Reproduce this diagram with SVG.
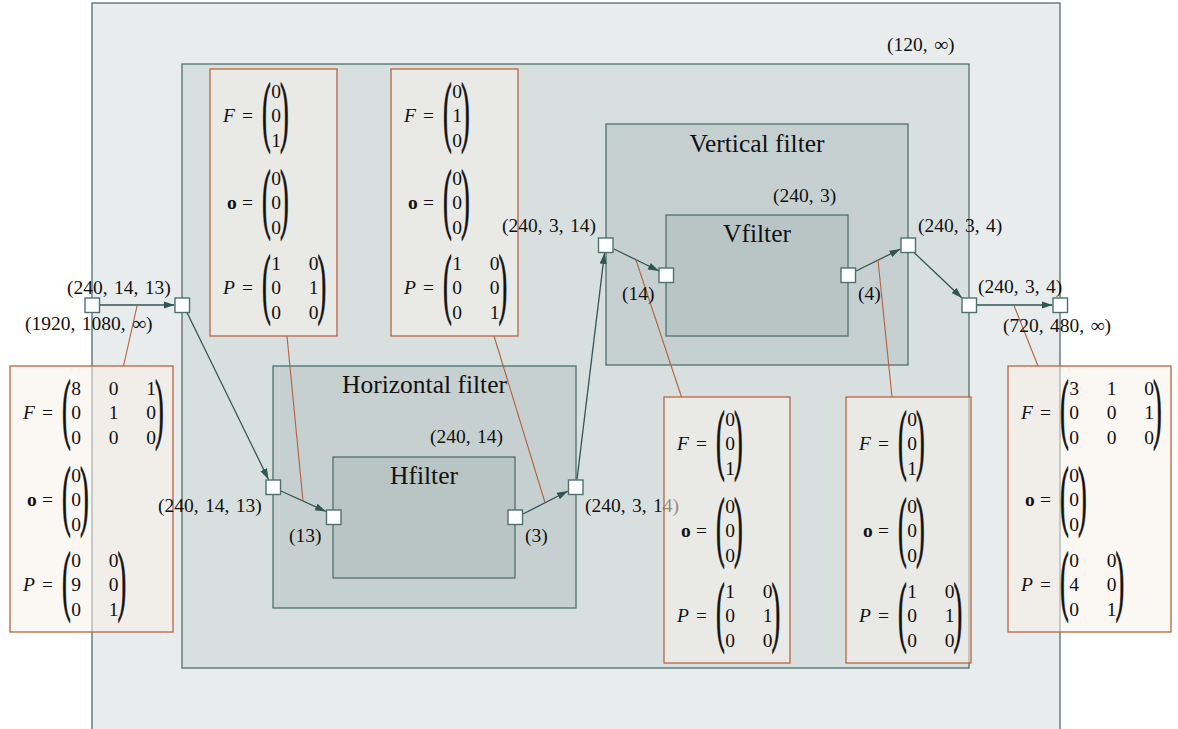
<svg xmlns="http://www.w3.org/2000/svg" width="1178" height="729" viewBox="0 0 1178 729">
<style>
.t{font-family:"Liberation Serif","Times New Roman",serif;font-size:19.5px;fill:#111;word-spacing:1.5px}
.ti{font-size:25.5px;text-anchor:middle;word-spacing:0}
.it{font-style:italic}
.bd{font-weight:bold}
.c{text-anchor:middle}
.box{stroke:#4e716e;stroke-width:1.3}
.port{fill:#fff;stroke:#4e716e;stroke-width:1.4}
.edge{fill:none;stroke:#2f5654;stroke-width:1.3;marker-end:url(#ah)}
.ann{fill:none;stroke:#b5603a;stroke-width:1.1}
.mb{fill:#f7f0ea;fill-opacity:0.55;stroke:#b9653f;stroke-width:1.3}
.p{stroke:#111;stroke-width:0.25}
</style>
<defs>
<marker id="ah" markerWidth="12" markerHeight="8" refX="11" refY="4" orient="auto" markerUnits="userSpaceOnUse"><path d="M0,0.4 L11,4 L0,7.6 z" fill="#2f5654"/></marker>
</defs>
<rect width="1178" height="729" fill="#fff"/>
<g id="outer"><rect class="box" x="92" y="3" width="968" height="740" fill="#e8ecec"/></g>
<g id="inner"><rect class="box" x="182" y="64" width="787" height="604" fill="#d8dfdf"/></g>
<g id="hgroup"><rect class="box" x="273" y="366" width="303" height="242" fill="#c6d0d0"/></g>
<g id="hfilter"><rect class="box" x="333" y="457" width="182" height="121" fill="#b9c5c4"/></g>
<g id="vgroup"><rect class="box" x="606" y="124" width="302" height="241" fill="#c6d0d0"/></g>
<g id="vfilter"><rect class="box" x="666" y="215" width="182" height="121" fill="#b9c5c4"/></g>

<g id="connectors">
<path class="edge" d="M99.5,305 L174.5,305"/>
<path class="edge" d="M187,312.5 L268.5,479.5"/>
<path class="edge" d="M281,491 L326,511.5"/>
<path class="edge" d="M523,514 L568,491"/>
<path class="edge" d="M577,479.5 L604.5,253"/>
<path class="edge" d="M614,249 L659,271"/>
<path class="edge" d="M856,271 L900.5,249"/>
<path class="edge" d="M914,252.5 L962,298"/>
<path class="edge" d="M976.5,305 L1052.5,305"/>
<path class="ann" d="M137,306 L123.5,366"/>
<path class="ann" d="M287,336 L303,501"/>
<path class="ann" d="M494,336 L545,502.5"/>
<path class="ann" d="M636,260 L681.5,397"/>
<path class="ann" d="M878,260 L892,397"/>
<path class="ann" d="M1014,305.5 L1038,366"/>
</g>

<g id="m-in" class="t" transform="translate(10,366)">
<rect class="mb" x="0" y="0" width="163" height="266"/>
<text class="it" x="13" y="53">F</text><text x="32" y="53">=</text>
<text class="p" transform="translate(52,67.6) scale(1.35,4)">(</text><text class="p" transform="translate(145,67.6) scale(1.35,4)">)</text>
<text class="c" x="66" y="28.5">8</text><text class="c" x="103.5" y="28.5">0</text><text class="c" x="141" y="28.5">1</text>
<text class="c" x="66" y="53">0</text><text class="c" x="103.5" y="53">1</text><text class="c" x="141" y="53">0</text>
<text class="c" x="66" y="77.5">0</text><text class="c" x="103.5" y="77.5">0</text><text class="c" x="141" y="77.5">0</text>
<text class="bd" x="17" y="140">o</text><text x="32" y="140">=</text>
<text class="p" transform="translate(52,154.6) scale(1.35,4)">(</text><text class="p" transform="translate(70,154.6) scale(1.35,4)">)</text>
<text class="c" x="66" y="115.5">0</text><text class="c" x="66" y="140">0</text><text class="c" x="66" y="164.5">0</text>
<text class="it" x="13" y="225">P</text><text x="32" y="225">=</text>
<text class="p" transform="translate(52,239.6) scale(1.35,4)">(</text><text class="p" transform="translate(107.5,239.6) scale(1.35,4)">)</text>
<text class="c" x="66" y="200.5">0</text><text class="c" x="103.5" y="200.5">0</text>
<text class="c" x="66" y="225">9</text><text class="c" x="103.5" y="225">0</text>
<text class="c" x="66" y="249.5">0</text><text class="c" x="103.5" y="249.5">1</text>
</g>

<g id="m-h1" class="t" transform="translate(210,69)">
<rect class="mb" x="0" y="0" width="127" height="267"/>
<text class="it" x="13" y="53">F</text><text x="32" y="53">=</text>
<text class="p" transform="translate(52,67.6) scale(1.35,4)">(</text><text class="p" transform="translate(70,67.6) scale(1.35,4)">)</text>
<text class="c" x="66" y="28.5">0</text><text class="c" x="66" y="53">0</text><text class="c" x="66" y="77.5">1</text>
<text class="bd" x="17" y="140">o</text><text x="32" y="140">=</text>
<text class="p" transform="translate(52,154.6) scale(1.35,4)">(</text><text class="p" transform="translate(70,154.6) scale(1.35,4)">)</text>
<text class="c" x="66" y="115.5">0</text><text class="c" x="66" y="140">0</text><text class="c" x="66" y="164.5">0</text>
<text class="it" x="13" y="225">P</text><text x="32" y="225">=</text>
<text class="p" transform="translate(52,239.6) scale(1.35,4)">(</text><text class="p" transform="translate(107.5,239.6) scale(1.35,4)">)</text>
<text class="c" x="66" y="200.5">1</text><text class="c" x="103.5" y="200.5">0</text>
<text class="c" x="66" y="225">0</text><text class="c" x="103.5" y="225">1</text>
<text class="c" x="66" y="249.5">0</text><text class="c" x="103.5" y="249.5">0</text>
</g>

<g id="m-h2" class="t" transform="translate(391,69)">
<rect class="mb" x="0" y="0" width="127" height="267"/>
<text class="it" x="13" y="53">F</text><text x="32" y="53">=</text>
<text class="p" transform="translate(52,67.6) scale(1.35,4)">(</text><text class="p" transform="translate(70,67.6) scale(1.35,4)">)</text>
<text class="c" x="66" y="28.5">0</text><text class="c" x="66" y="53">1</text><text class="c" x="66" y="77.5">0</text>
<text class="bd" x="17" y="140">o</text><text x="32" y="140">=</text>
<text class="p" transform="translate(52,154.6) scale(1.35,4)">(</text><text class="p" transform="translate(70,154.6) scale(1.35,4)">)</text>
<text class="c" x="66" y="115.5">0</text><text class="c" x="66" y="140">0</text><text class="c" x="66" y="164.5">0</text>
<text class="it" x="13" y="225">P</text><text x="32" y="225">=</text>
<text class="p" transform="translate(52,239.6) scale(1.35,4)">(</text><text class="p" transform="translate(107.5,239.6) scale(1.35,4)">)</text>
<text class="c" x="66" y="200.5">1</text><text class="c" x="103.5" y="200.5">0</text>
<text class="c" x="66" y="225">0</text><text class="c" x="103.5" y="225">0</text>
<text class="c" x="66" y="249.5">0</text><text class="c" x="103.5" y="249.5">1</text>
</g>

<g id="labels" class="t">
<text class="ti" x="757" y="152">Vertical filter</text>
<text class="ti" x="757" y="242">Vfilter</text>
<text class="ti" x="424.5" y="393">Horizontal filter</text>
<text class="ti" x="424" y="484">Hfilter</text>
<text x="887" y="51">(120, ∞)</text>
<text x="430" y="443">(240, 14)</text>
<text x="773" y="201.5">(240, 3)</text>
<text x="67" y="294">(240, 14, 13)</text>
<text x="25" y="330">(1920, 1080, ∞)</text>
<text x="158" y="511.5">(240, 14, 13)</text>
<text x="289" y="541.5">(13)</text>
<text x="525" y="541.5">(3)</text>
<text x="585" y="511.5">(240, 3, 14)</text>
<text x="502" y="231.5">(240, 3, 14)</text>
<text x="622" y="300">(14)</text>
<text x="858" y="300">(4)</text>
<text x="918" y="231.5">(240, 3, 4)</text>
<text x="978" y="293">(240, 3, 4)</text>
<text x="1003" y="331.5">(720, 480, ∞)</text>
</g>

<g id="ports">
<rect class="port" x="85" y="298" width="14.5" height="14.5"/>
<rect class="port" x="175" y="298" width="14.5" height="14.5"/>
<rect class="port" x="266" y="480" width="14.5" height="14.5"/>
<rect class="port" x="326.5" y="510" width="14.5" height="14.5"/>
<rect class="port" x="508" y="510" width="14.5" height="14.5"/>
<rect class="port" x="568.5" y="480" width="14.5" height="14.5"/>
<rect class="port" x="598.5" y="238" width="14.5" height="14.5"/>
<rect class="port" x="659" y="268" width="14.5" height="14.5"/>
<rect class="port" x="841" y="268" width="14.5" height="14.5"/>
<rect class="port" x="901" y="238" width="14.5" height="14.5"/>
<rect class="port" x="962" y="298" width="14.5" height="14.5"/>
<rect class="port" x="1053" y="298" width="14.5" height="14.5"/>
</g>

<g id="m-v1" class="t" transform="translate(664,397)">
<rect class="mb" x="0" y="0" width="126" height="266"/>
<text class="it" x="13" y="53">F</text><text x="32" y="53">=</text>
<text class="p" transform="translate(52,67.6) scale(1.35,4)">(</text><text class="p" transform="translate(70,67.6) scale(1.35,4)">)</text>
<text class="c" x="66" y="28.5">0</text><text class="c" x="66" y="53">0</text><text class="c" x="66" y="77.5">1</text>
<text class="bd" x="17" y="140">o</text><text x="32" y="140">=</text>
<text class="p" transform="translate(52,154.6) scale(1.35,4)">(</text><text class="p" transform="translate(70,154.6) scale(1.35,4)">)</text>
<text class="c" x="66" y="115.5">0</text><text class="c" x="66" y="140">0</text><text class="c" x="66" y="164.5">0</text>
<text class="it" x="13" y="225">P</text><text x="32" y="225">=</text>
<text class="p" transform="translate(52,239.6) scale(1.35,4)">(</text><text class="p" transform="translate(107.5,239.6) scale(1.35,4)">)</text>
<text class="c" x="66" y="200.5">1</text><text class="c" x="103.5" y="200.5">0</text>
<text class="c" x="66" y="225">0</text><text class="c" x="103.5" y="225">1</text>
<text class="c" x="66" y="249.5">0</text><text class="c" x="103.5" y="249.5">0</text>
</g>

<g id="m-v2" class="t" transform="translate(846,397)">
<rect class="mb" x="0" y="0" width="125" height="266"/>
<text class="it" x="13" y="53">F</text><text x="32" y="53">=</text>
<text class="p" transform="translate(52,67.6) scale(1.35,4)">(</text><text class="p" transform="translate(70,67.6) scale(1.35,4)">)</text>
<text class="c" x="66" y="28.5">0</text><text class="c" x="66" y="53">0</text><text class="c" x="66" y="77.5">1</text>
<text class="bd" x="17" y="140">o</text><text x="32" y="140">=</text>
<text class="p" transform="translate(52,154.6) scale(1.35,4)">(</text><text class="p" transform="translate(70,154.6) scale(1.35,4)">)</text>
<text class="c" x="66" y="115.5">0</text><text class="c" x="66" y="140">0</text><text class="c" x="66" y="164.5">0</text>
<text class="it" x="13" y="225">P</text><text x="32" y="225">=</text>
<text class="p" transform="translate(52,239.6) scale(1.35,4)">(</text><text class="p" transform="translate(107.5,239.6) scale(1.35,4)">)</text>
<text class="c" x="66" y="200.5">1</text><text class="c" x="103.5" y="200.5">0</text>
<text class="c" x="66" y="225">0</text><text class="c" x="103.5" y="225">1</text>
<text class="c" x="66" y="249.5">0</text><text class="c" x="103.5" y="249.5">0</text>
</g>

<g id="m-out" class="t" transform="translate(1008,366)">
<rect class="mb" x="0" y="0" width="163" height="266"/>
<text class="it" x="13" y="53">F</text><text x="32" y="53">=</text>
<text class="p" transform="translate(52,67.6) scale(1.35,4)">(</text><text class="p" transform="translate(145,67.6) scale(1.35,4)">)</text>
<text class="c" x="66" y="28.5">3</text><text class="c" x="103.5" y="28.5">1</text><text class="c" x="141" y="28.5">0</text>
<text class="c" x="66" y="53">0</text><text class="c" x="103.5" y="53">0</text><text class="c" x="141" y="53">1</text>
<text class="c" x="66" y="77.5">0</text><text class="c" x="103.5" y="77.5">0</text><text class="c" x="141" y="77.5">0</text>
<text class="bd" x="17" y="140">o</text><text x="32" y="140">=</text>
<text class="p" transform="translate(52,154.6) scale(1.35,4)">(</text><text class="p" transform="translate(70,154.6) scale(1.35,4)">)</text>
<text class="c" x="66" y="115.5">0</text><text class="c" x="66" y="140">0</text><text class="c" x="66" y="164.5">0</text>
<text class="it" x="13" y="225">P</text><text x="32" y="225">=</text>
<text class="p" transform="translate(52,239.6) scale(1.35,4)">(</text><text class="p" transform="translate(107.5,239.6) scale(1.35,4)">)</text>
<text class="c" x="66" y="200.5">0</text><text class="c" x="103.5" y="200.5">0</text>
<text class="c" x="66" y="225">4</text><text class="c" x="103.5" y="225">0</text>
<text class="c" x="66" y="249.5">0</text><text class="c" x="103.5" y="249.5">1</text>
</g>
</svg>
